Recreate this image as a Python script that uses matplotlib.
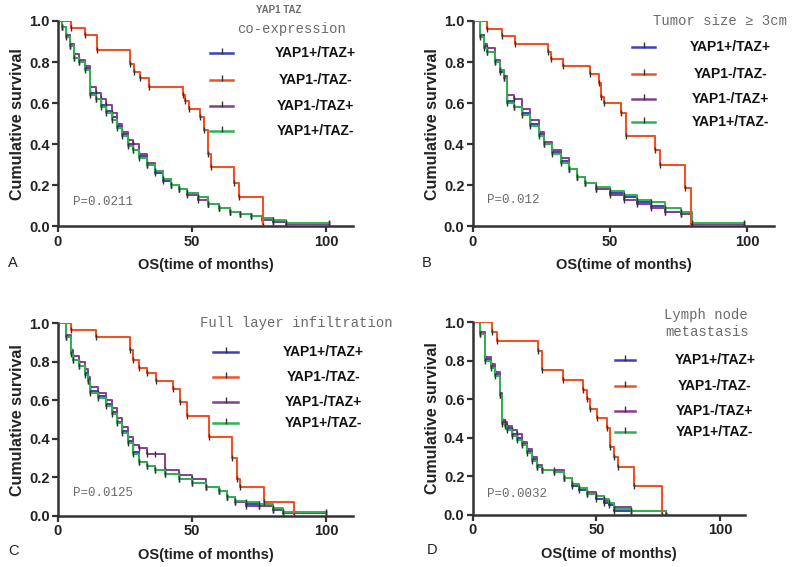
import matplotlib
matplotlib.use("Agg")
import matplotlib.pyplot as plt
from matplotlib import rcParams

rcParams.update({
    "font.family": ["Liberation Sans", "DejaVu Sans"],
    "axes.unicode_minus": False,
})

# 系列名称与颜色
groups = ["YAP1+/TAZ+", "YAP1-/TAZ-", "YAP1-/TAZ+", "YAP1+/TAZ-"]
colors = ["#3f3fc0", "#ec5428", "#85408f", "#2db450"]

# ---- A: YAP1 TAZ co-expression ----
a_t = [0, 1.5, 3, 4.5, 6, 8, 10, 12, 14, 16, 18, 20, 22, 24, 26, 28, 30, 33, 36, 39,
       42, 45, 48, 52, 56, 60, 64, 68, 72, 76, 80, 85, 101]
a_blue = [1.0, 0.97, 0.93, 0.88, 0.82, 0.80, 0.77, 0.65, 0.62, 0.59, 0.56, 0.53, 0.49, 0.45,
          0.40, 0.37, 0.34, 0.30, 0.26, 0.22, 0.20, 0.18, 0.16, 0.14, 0.11, 0.09, 0.07, 0.06,
          0.05, 0.04, 0.02, 0.01, 0.01]
a_purple = [1.0, 0.97, 0.93, 0.89, 0.84, 0.81, 0.78, 0.68, 0.65, 0.62, 0.59, 0.55, 0.50, 0.46,
            0.42, 0.40, 0.35, 0.31, 0.27, 0.23, 0.20, 0.18, 0.15, 0.13, 0.11, 0.09, 0.07, 0.06,
            0.05, 0.03, 0.02, 0.01, 0.01]
a_green = [1.0, 0.97, 0.92, 0.88, 0.82, 0.80, 0.76, 0.64, 0.62, 0.58, 0.55, 0.52, 0.48, 0.44,
           0.39, 0.37, 0.33, 0.30, 0.27, 0.23, 0.20, 0.18, 0.16, 0.14, 0.11, 0.09, 0.07, 0.06,
           0.05, 0.04, 0.03, 0.015, 0.015]
a_red_t = [0, 5, 10, 14.5, 27, 28.5, 30.5, 34, 46.5, 47.5, 49, 53, 54.5, 56, 57, 65.5, 67.5, 76.5]
a_red = [1.0, 0.967, 0.93, 0.86, 0.79, 0.75, 0.72, 0.68, 0.64, 0.61, 0.57, 0.53, 0.47, 0.35,
         0.29, 0.21, 0.14, 0.0]

# ---- B: Tumor size >= 3cm ----
b_t = [0, 2.7, 4, 5, 8, 10, 11.5, 12.4, 15, 18, 21, 24, 26, 29, 32, 35, 38, 41, 45, 50,
       55, 60, 65, 70, 76, 80, 99]
b_blue = [1.0, 0.93, 0.88, 0.85, 0.80, 0.75, 0.72, 0.61, 0.58, 0.55, 0.50, 0.45, 0.40, 0.36,
          0.32, 0.28, 0.24, 0.21, 0.18, 0.16, 0.14, 0.12, 0.10, 0.07, 0.06, 0.01, 0.01]
b_purple = [1.0, 0.93, 0.89, 0.87, 0.81, 0.76, 0.73, 0.64, 0.62, 0.57, 0.52, 0.46, 0.41, 0.37,
            0.33, 0.28, 0.24, 0.21, 0.18, 0.15, 0.13, 0.11, 0.09, 0.07, 0.06, 0.01, 0.01]
b_green = [1.0, 0.92, 0.87, 0.85, 0.80, 0.76, 0.72, 0.60, 0.58, 0.54, 0.49, 0.44, 0.40, 0.35,
           0.31, 0.28, 0.24, 0.21, 0.19, 0.17, 0.15, 0.13, 0.12, 0.09, 0.07, 0.015, 0.015]
b_red_t = [0, 5.3, 10.6, 15.4, 27.5, 28.5, 33, 42.7, 46, 46.8, 47.8, 54.2, 56, 66.4, 68.2,
           77.3, 79.7]
b_red = [1.0, 0.963, 0.926, 0.89, 0.85, 0.815, 0.78, 0.74, 0.70, 0.63, 0.60, 0.55, 0.44,
         0.37, 0.30, 0.185, 0.0]

# ---- C: Full layer infiltration ----
c_t = [0, 3, 5, 5.5, 8, 10, 11, 12, 15, 18, 20, 22, 24, 26, 28, 30, 33, 36, 40, 45, 50,
       55, 60, 63, 66, 70, 75, 80, 84, 100]
c_blue = [1.0, 0.93, 0.85, 0.81, 0.78, 0.74, 0.70, 0.65, 0.62, 0.58, 0.54, 0.49, 0.44, 0.39,
          0.33, 0.28, 0.26, 0.24, 0.22, 0.19, 0.17, 0.15, 0.13, 0.10, 0.07, 0.06, 0.05, 0.03,
          0.015, 0.015]
c_purple = [1.0, 0.94, 0.86, 0.83, 0.80, 0.76, 0.72, 0.67, 0.64, 0.60, 0.56, 0.51, 0.46, 0.41,
            0.37, 0.35, 0.32, 0.32, 0.24, 0.21, 0.19, 0.15, 0.13, 0.10, 0.07, 0.05, 0.05, 0.03,
            0.015, 0.015]
c_green = [1.0, 0.93, 0.84, 0.81, 0.78, 0.73, 0.70, 0.64, 0.61, 0.57, 0.53, 0.48, 0.43, 0.38,
           0.32, 0.28, 0.26, 0.24, 0.22, 0.19, 0.17, 0.15, 0.13, 0.10, 0.08, 0.07, 0.06, 0.04,
           0.02, 0.02]
c_red_t = [0, 5, 14.3, 26.8, 28, 30, 33, 36.7, 43, 45.5, 48, 56.4, 64.8, 66.6, 67.9, 76.6, 87.8]
c_red = [1.0, 0.965, 0.93, 0.86, 0.81, 0.77, 0.74, 0.70, 0.66, 0.59, 0.52, 0.41, 0.30, 0.19,
         0.15, 0.07, 0.0]

# ---- D: Lymph node metastasis ----
d_t = [0, 3, 5, 7.5, 9, 11, 12, 13, 14, 16, 18, 20, 22, 24, 26, 28, 33, 37, 40, 43, 46,
       50, 53, 55, 57, 64, 78]
d_blue = [1.0, 0.94, 0.81, 0.77, 0.73, 0.62, 0.48, 0.47, 0.45, 0.42, 0.40, 0.37, 0.33, 0.29,
          0.25, 0.23, 0.22, 0.19, 0.15, 0.13, 0.11, 0.08, 0.06, 0.05, 0.02, 0.02, 0.0]
d_purple = [1.0, 0.95, 0.82, 0.78, 0.74, 0.63, 0.49, 0.48, 0.46, 0.44, 0.42, 0.38, 0.34, 0.30,
            0.26, 0.23, 0.23, 0.19, 0.16, 0.14, 0.12, 0.10, 0.07, 0.06, 0.04, 0.02, 0.0]
d_green = [1.0, 0.94, 0.80, 0.76, 0.72, 0.62, 0.47, 0.46, 0.44, 0.41, 0.39, 0.36, 0.32, 0.28,
           0.25, 0.23, 0.22, 0.19, 0.16, 0.14, 0.11, 0.10, 0.08, 0.06, 0.03, 0.02, 0.0]
d_red_t = [0, 7.7, 9.7, 26.5, 28, 36.3, 44.7, 46, 47.4, 50.1, 54.4, 55.5, 57, 58.9, 65, 76.4]
d_red = [1.0, 0.95, 0.90, 0.85, 0.75, 0.70, 0.65, 0.60, 0.55, 0.50, 0.45, 0.35, 0.30, 0.25,
         0.15, 0.0]

# 面板信息: 标题行, 标题位置, P 值, 图例位置
panels = [
    dict(letter="A", t=a_t, curves=[a_blue, a_red, a_purple, a_green], red_t=a_red_t, red=a_red,
         titles=[("YAP1 TAZ", 0.746, 1.054, "sans"), ("co-expression", 0.79, 0.961, "mono")],
         p="P=0.0211", p_xy=(5.6, 0.12),
         leg_x=(0.515, 0.593), leg_y=[0.844, 0.712, 0.585, 0.463], leg_tx=0.871),
    dict(letter="B", t=b_t, curves=[b_blue, b_red, b_purple, b_green], red_t=b_red_t, red=b_red,
         titles=[("Tumor size ≥ 3cm", 0.82, 1.0, "mono")],
         p="P=0.012", p_xy=(5.0, 0.13),
         leg_x=(0.528, 0.605), leg_y=[0.873, 0.741, 0.620, 0.507], leg_tx=0.854),
    dict(letter="C", t=c_t, curves=[c_blue, c_red, c_purple, c_green], red_t=c_red_t, red=c_red,
         titles=[("Full layer infiltration", 0.807, 1.0, "mono")],
         p="P=0.0125", p_xy=(5.6, 0.12),
         leg_x=(0.525, 0.610), leg_y=[0.850, 0.720, 0.591, 0.482], leg_tx=0.90),
    dict(letter="D", t=d_t, curves=[d_blue, d_red, d_purple, d_green], red_t=d_red_t, red=d_red,
         titles=[("Lymph node", 0.857, 1.036, "mono"), ("metastasis", 0.86, 0.948, "mono")],
         p="P=0.0032", p_xy=(5.7, 0.11),
         leg_x=(0.522, 0.596), leg_y=[0.803, 0.668, 0.539, 0.430], leg_tx=0.89),
]

# 坐标轴位置 (figure 比例)
positions = [
    [0.0725, 0.601, 0.369, 0.362],
    [0.591, 0.601, 0.377, 0.362],
    [0.0725, 0.090, 0.369, 0.340],
    [0.591, 0.092, 0.340, 0.340],
]

fig = plt.figure(figsize=(8, 5.67), dpi=100)
axis_color = "#333333"
text_gray = "#6a6a6a"

for info, pos in zip(panels, positions):
    ax = fig.add_axes(pos)

    # 三条密集曲线 + 红色曲线
    for idx, (vals, col) in enumerate(zip(info["curves"], colors)):
        if idx == 1:
            ax.plot(info["red_t"], info["red"], drawstyle="steps-post", color=col, lw=1.5,
                    marker="|", ms=5, mec="#333333", mew=1.0, zorder=3)
        else:
            ax.plot(info["t"], vals, drawstyle="steps-post", color=col, lw=1.4,
                    marker="|", ms=5, mec="#333333", mew=1.0, zorder=2)

    ax.set_xlim(0, 110)
    ax.set_ylim(0, 1.0)
    ax.set_xticks([0, 50, 100])
    ax.set_yticks([0.0, 0.2, 0.4, 0.6, 0.8, 1.0])
    ax.set_yticklabels(["0.0", "0.2", "0.4", "0.6", "0.8", "1.0"])
    for side in ["top", "right"]:
        ax.spines[side].set_visible(False)
    for side in ["left", "bottom"]:
        ax.spines[side].set_color(axis_color)
        ax.spines[side].set_linewidth(1.8)
    ax.tick_params(direction="out", length=4, width=1.6, color=axis_color,
                   labelsize=10.5, labelcolor="#222222", pad=2)
    for lab in ax.get_xticklabels() + ax.get_yticklabels():
        lab.set_fontweight("bold")
    ax.set_ylabel("Cumulative survival", fontsize=11.5, fontweight="bold", color="#222222",
                  labelpad=3)
    ax.set_xlabel("OS(time of months)", fontsize=10.5, fontweight="bold", color="#222222",
                  labelpad=7)

    # 面板字母
    ax.text(-0.17, -0.18, info["letter"], transform=ax.transAxes, fontsize=10.5,
            color="#222222", ha="left", va="center")

    # 标题
    for txt, tx, ty, kind in info["titles"]:
        if kind == "sans":
            ax.text(tx, ty, txt, transform=ax.transAxes, fontsize=7, fontweight="bold",
                    color=text_gray, ha="center", va="center", clip_on=False)
        else:
            ax.text(tx, ty, txt, transform=ax.transAxes, fontsize=10,
                    family=["Liberation Mono", "DejaVu Sans Mono"], color=text_gray,
                    ha="center", va="center", clip_on=False)

    # P 值
    ax.text(info["p_xy"][0], info["p_xy"][1], info["p"], fontsize=9,
            family=["Liberation Mono", "DejaVu Sans Mono"], color=text_gray,
            ha="left", va="center")

    # 图例 (手动绘制)
    x0, x1 = info["leg_x"]
    for name, col, yy in zip(groups, colors, info["leg_y"]):
        ax.plot([x0, x1], [yy, yy], transform=ax.transAxes, color=col, lw=1.8,
                clip_on=False)
        ax.plot([(x0 + x1) / 2], [yy + 0.01], transform=ax.transAxes, marker="|", ms=5,
                mec="#333333", mew=1.0, clip_on=False)
        ax.text(info["leg_tx"], yy, name, transform=ax.transAxes, fontsize=10,
                fontweight="bold", color="#111111", ha="center", va="center")

fig.savefig("out.png", dpi=100)
